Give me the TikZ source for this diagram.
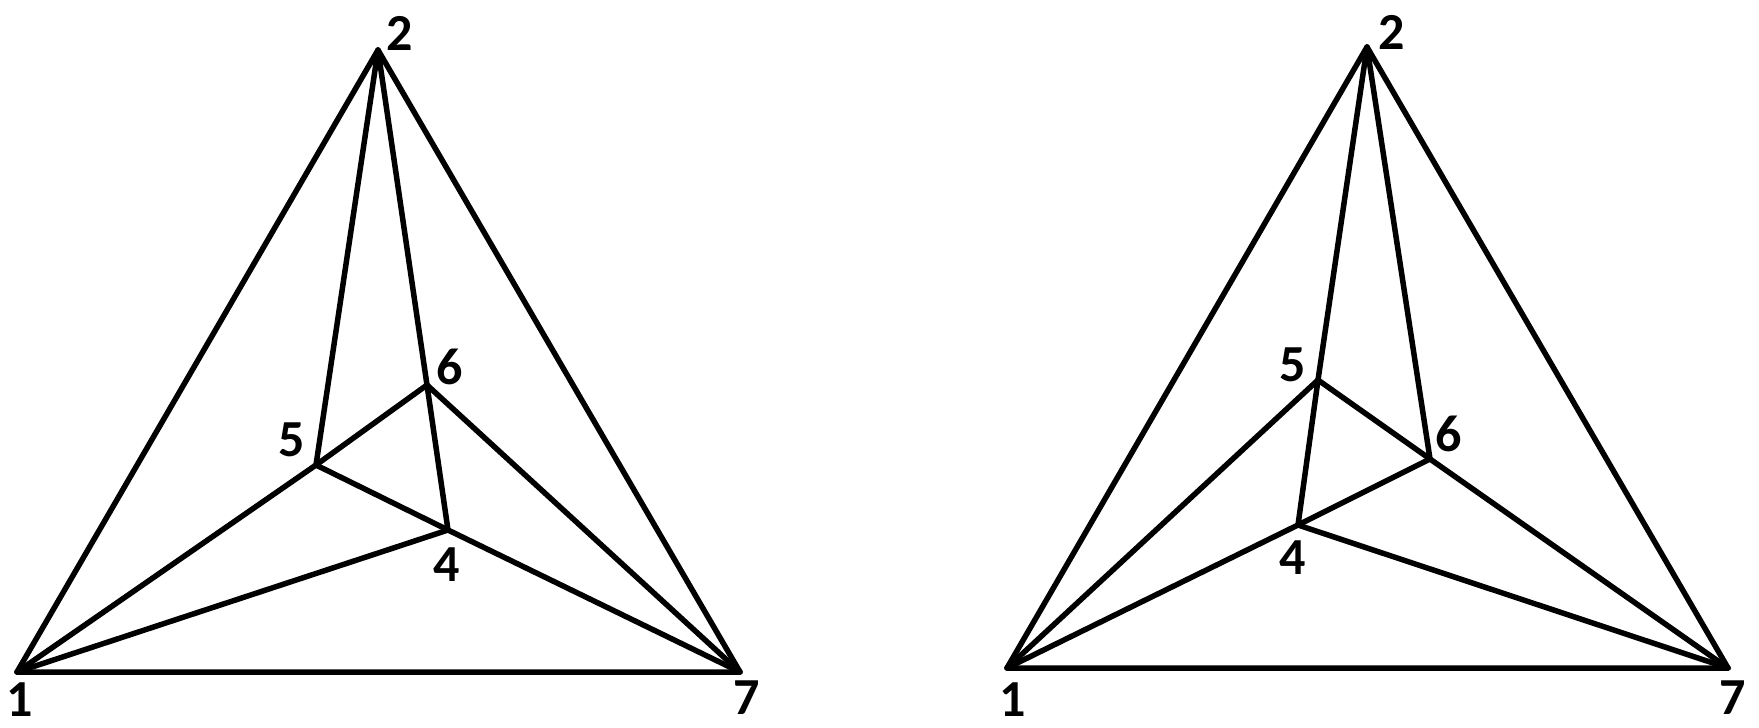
\documentclass[tikz,border=0pt]{standalone}
\usepackage{fontspec}
\setmainfont{Carlito}[BoldFont={Carlito Bold}]
\begin{document}
\begin{tikzpicture}[x=1pt,y=-1pt,
  edge/.style={line width=5.5pt,line cap=round,line join=round},
  lab/.style={font=\fontsize{52}{52}\selectfont\bfseries,inner sep=0pt}]
\useasboundingbox (0,0) rectangle (1759,728);
% left graph
\coordinate (a1) at (17,672);
\coordinate (a2) at (378,50);
\coordinate (a7) at (740,672);
\coordinate (a5) at (316,465);
\coordinate (a6) at (427,385);
\coordinate (a4) at (448,530);
\draw[edge] (a1) -- (a2) -- (a7) -- cycle;
\draw[edge] (a2) -- (a5);
\draw[edge] (a2) -- (a6);
\draw[edge] (a6) -- (a4);
\draw[edge] (a5) -- (a6);
\draw[edge] (a5) -- (a4);
\draw[edge] (a1) -- (a5);
\draw[edge] (a1) -- (a4);
\draw[edge] (a6) -- (a7);
\draw[edge] (a4) -- (a7);
\node[lab] (la1) at (20,700) {1};
\node[lab] (la2) at (400,33) {2};
\node[lab] (la7) at (747,698) {7};
\node[lab] (la5) at (292,440) {5};
\node[lab] (la6) at (450,367) {6};
\node[lab] (la4) at (447,565) {4};
% right graph
\coordinate (b1) at (1007,668);
\coordinate (b2) at (1367,47);
\coordinate (b7) at (1728,668);
\coordinate (b5) at (1318,380);
\coordinate (b6) at (1430,459);
\coordinate (b4) at (1298,525);
\draw[edge] (b1) -- (b2) -- (b7) -- cycle;
\draw[edge] (b2) -- (b5);
\draw[edge] (b5) -- (b4);
\draw[edge] (b2) -- (b6);
\draw[edge] (b5) -- (b6);
\draw[edge] (b1) -- (b5);
\draw[edge] (b1) -- (b4);
\draw[edge] (b4) -- (b6);
\draw[edge] (b4) -- (b7);
\draw[edge] (b6) -- (b7);
\node[lab] (lb1) at (1013,700) {1};
\node[lab] (lb2) at (1392,32) {2};
\node[lab] (lb7) at (1733,698) {7};
\node[lab] (lb5) at (1293,365) {5};
\node[lab] (lb6) at (1449,434) {6};
\node[lab] (lb4) at (1293,558) {4};
\end{tikzpicture}
\end{document}
